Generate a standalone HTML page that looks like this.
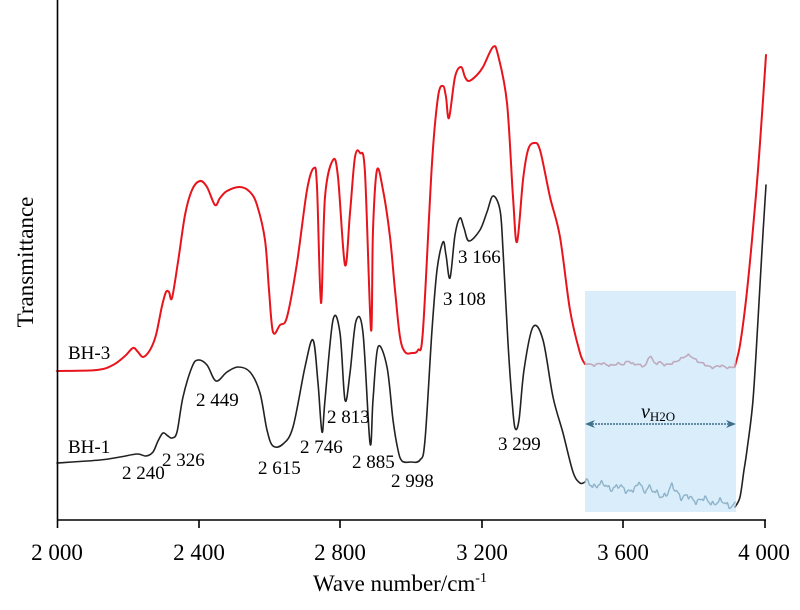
<!DOCTYPE html>
<html><head><meta charset="utf-8"><style>
html,body{margin:0;padding:0;background:#fff;}
svg{display:block;font-family:"Liberation Serif",serif;}
</style></head><body>
<svg id="s" width="800" height="610" viewBox="0 0 800 610" xmlns="http://www.w3.org/2000/svg">
<rect width="800" height="610" fill="#fff"/>
<g fill="none" stroke-linejoin="round" stroke-linecap="round">
<path id="red" stroke="#e8141c" stroke-width="2" d=""/>
<path id="redn" stroke="#c86a78" stroke-width="1.6" d=""/>
<path id="red2" stroke="#e8141c" stroke-width="2" d=""/>
<path id="blk" stroke="#222" stroke-width="1.6" d=""/>
<path id="blkn" stroke="#5a7d92" stroke-width="1.4" d=""/>
<path id="blk2" stroke="#222" stroke-width="1.6" d=""/>
</g>
<rect x="585" y="291" width="151" height="221" fill="rgb(185,222,245)" fill-opacity="0.55"/>
<line x1="589" y1="424" x2="732" y2="424" stroke="#3f6f8a" stroke-width="1.5" stroke-dasharray="2,1"/>
<path d="M585,424 l10,-4 l-3,4 l3,4z M736,424 l-10,-4 l3,4 l-3,4z" fill="#3f6f8a"/>
<text x="641" y="418" font-size="20" font-style="italic">ν<tspan font-size="13" font-style="normal" dy="3">H2O</tspan></text>
<g stroke="#000" stroke-width="1.6">
<line x1="57.5" y1="0" x2="57.5" y2="520"/>
<line x1="57" y1="520" x2="766" y2="520"/>
<line x1="57.5" y1="520" x2="57.5" y2="528"/>
<line x1="199" y1="520" x2="199" y2="528"/>
<line x1="340" y1="520" x2="340" y2="528"/>
<line x1="482" y1="520" x2="482" y2="528"/>
<line x1="623" y1="520" x2="623" y2="528"/>
<line x1="765" y1="520" x2="765" y2="528"/>
</g>
<g font-size="23" text-anchor="middle" fill="#000">
<text x="57" y="560">2 000</text>
<text x="199" y="560">2 400</text>
<text x="340" y="560">2 800</text>
<text x="482" y="560">3 200</text>
<text x="623" y="560">3 600</text>
<text x="764" y="560">4 000</text>
<text x="400" y="591">Wave number/cm<tspan font-size="14" dy="-9">-1</tspan></text>
<text transform="translate(33,262) rotate(-90)">Transmittance</text>
</g>
<g font-size="19" fill="#000">
<text x="68" y="359">BH-3</text>
<text x="68" y="453">BH-1</text>
<text x="122" y="479">2 240</text>
<text x="162" y="466">2 326</text>
<text x="196" y="406">2 449</text>
<text x="258" y="474">2 615</text>
<text x="300" y="453">2 746</text>
<text x="327" y="423">2 813</text>
<text x="352" y="468">2 885</text>
<text x="391" y="487">2 998</text>
<text x="443" y="305">3 108</text>
<text x="458" y="263">3 166</text>
<text x="498" y="450">3 299</text>
</g>
</svg>
<script>
(function(){
function parse(s){return s.trim().split(/\s+/).map(function(q){var a=q.split(",");return [+a[0],+a[1]];});}
function cr(p){var d="M"+p[0][0]+","+p[0][1];for(var i=0;i<p.length-1;i++){var p0=p[i-1]||p[i],p1=p[i],p2=p[i+1],p3=p[i+2]||p2;
var c1x=p1[0]+(p2[0]-p0[0])/6,c1y=p1[1]+(p2[1]-p0[1])/6,c2x=p2[0]-(p3[0]-p1[0])/6,c2y=p2[1]-(p3[1]-p1[1])/6;
d+=" C"+c1x.toFixed(1)+","+c1y.toFixed(1)+" "+c2x.toFixed(1)+","+c2y.toFixed(1)+" "+p2[0]+","+p2[1];}return d;}
function set(id,s){document.getElementById(id).setAttribute("d",cr(parse(s)));}
set("red","57,371 97,370 113,365 125,356 133,348 138,352 143,357 150,350 156,335 162,306 166,292 169,292 172,298 178,262 185,215 192,190 200,181 207,187 215,205 220,198 227,191 240,187 250,192 257,205 265,240 269,290 273,332 280,325 287,317 297,263 307,190 314,168 317,187 321,303 325,197 333,160 338,177 345,265 350,213 355,157 360,153 365,173 371,330 373,230 377,170 383,190 390,237 395,290 400,337 405,352 412,353 418,350 423,330 432,163 438,97 443,86 446,97 449,118 455,77 461,67 465,77 469,81 477,75 483,67 493,47 498,55 507,103 513,197 517,242 523,180 528,150 534,143 540,150 550,197 560,237 570,310 580,353 585,364");
set("red2","735,366 740,345 746,300 752,240 758,170 763,100 766,55");
set("blk","57,463 100,460 120,457 137,454 146,456 153,452 158,441 163,433 168,436 172,438 177,432 183,397 192,367 198,360 207,365 216,381 227,372 238,367 250,372 260,393 267,430 273,446 283,444 293,427 305,367 313,340 318,383 322,432 325,400 333,320 340,333 345,400 350,373 356,321 363,333 370,443 373,400 378,347 387,367 393,420 398,450 402,461 410,462 420,460 425,440 432,330 437,270 443,242 446,255 450,278 455,235 460,218 464,228 469,241 480,230 487,212 493,196 500,210 503,250 508,343 512,400 515,428 519,420 524,370 533,327 543,340 553,397 563,433 573,472 580,483 585,482");
set("blk2","735,507 740,497 744,470 747,450 753,400 758,320 762,250 766,185");
function gen(y0,y1,amp,seed,bumps){var p=[];for(var x=585;x<=735;x+=1.5){var t=(x-585)/150;var y=y0+(y1-y0)*t;
y+=amp*(Math.sin(x*0.9+seed)*0.6+Math.sin(x*0.37+seed*2)*0.8+Math.sin(x*1.7+seed*3)*0.4);
for(var i=0;i<bumps.length;i++){var b=bumps[i];y-=b[1]*Math.exp(-Math.pow((x-b[0])/b[2],2));}
p.push(x.toFixed(1)+","+y.toFixed(1));}return p.join(" ");}
set("redn",gen(364,367,1.2,1,[[628,5,3],[650,9,3],[660,4,4],[690,10,10],[678,4,6]]));
set("blkn",gen(483,505,3,4,[[640,9,2.5],[648,7,2.5],[672,8,3],[677,6,3]]));
})();
</script>
</body></html>
